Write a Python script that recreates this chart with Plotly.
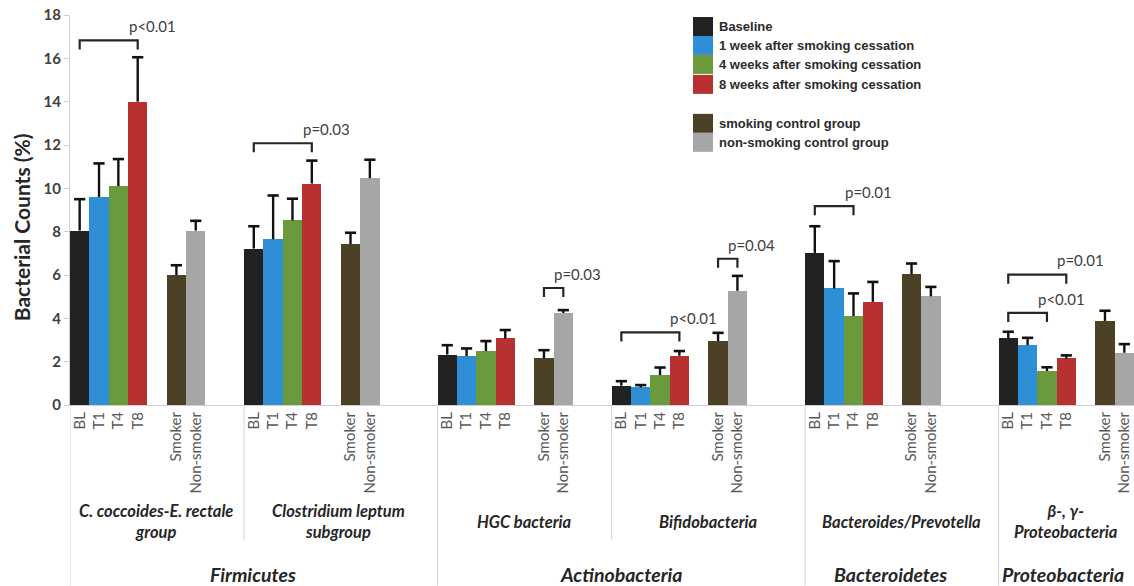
import plotly.graph_objects as go

# --- data -------------------------------------------------------------
subgroups = ["C. coccoides-E. rectale<br>group", "Clostridium leptum<br>subgroup",
             "HGC bacteria", "Bifidobacteria", "Bacteroides/Prevotella",
             "β-, γ-<br>Proteobacteria"]
phyla = ["Firmicutes", "Actinobacteria", "Bacteroidetes", "Proteobacteria"]

series_names = ["Baseline", "1 week after smoking cessation",
                "4 weeks after smoking cessation", "8 weeks after smoking cessation",
                "smoking control group", "non-smoking control group"]
tick_labels = ["BL", "T1", "T4", "T8", "Smoker", "Non-smoker"]

# mean bacterial counts (%) per subgroup, one list per series
baseline   = [8.05, 7.22, 2.33, 0.89, 7.02, 3.07]
week1      = [9.60, 7.65, 2.26, 0.81, 5.38, 2.76]
week4      = [10.10, 8.52, 2.49, 1.38, 4.10, 1.57]
week8      = [14.00, 10.22, 3.07, 2.27, 4.76, 2.15]
smokers    = [6.00, 7.42, 2.15, 2.95, 6.04, 3.88]
nonsmokers = [8.05, 10.47, 4.25, 5.27, 5.02, 2.41]

# upper error (SE) per subgroup
err_baseline   = [1.45, 1.03, 0.43, 0.21, 1.23, 0.31]
err_week1      = [1.55, 2.02, 0.35, 0.11, 1.26, 0.34]
err_week4      = [1.25, 1.00, 0.46, 0.35, 1.05, 0.17]
err_week8      = [2.05, 1.06, 0.39, 0.22, 0.92, 0.14]
err_smokers    = [0.45, 0.53, 0.38, 0.38, 0.49, 0.47]
err_nonsmokers = [0.45, 0.85, 0.13, 0.69, 0.43, 0.40]

# significance brackets: (subgroup index, first bar, last bar, y of bar, text)
brackets = [
    (0, 0, 3, 16.83, "p<0.01"),
    (1, 0, 3, 12.08, "p=0.03"),
    (2, 4, 5, 5.40, "p=0.03"),
    (3, 0, 3, 3.35, "p<0.01"),
    (3, 4, 5, 6.75, "p=0.04"),
    (4, 0, 2, 9.18, "p=0.01"),
    (5, 0, 3, 6.02, "p=0.01"),
    (5, 0, 2, 4.25, "p<0.01"),
]

# --- layout constants -------------------------------------------------
colors = ["#222222", "#2f8fd6", "#6a9a3b", "#b83131", "#4c4126", "#a6a6a6"]
group_start = [0, 9, 19, 28, 38, 48]       # first slot of each subgroup
bar_offset = [0, 1, 2, 3, 5, 6]            # slot of each series inside a subgroup
subgroup_center_px = [156, 338, 524, 708, 901, 1066]
phylum_center_px = [253, 621, 890, 1063]
LEFT, RIGHT, TOP, BASE, H = 70, 1134, 14.5, 405, 586
PW, PH = RIGHT - LEFT, BASE - TOP

values = [baseline, week1, week4, week8, smokers, nonsmokers]
errors = [err_baseline, err_week1, err_week4, err_week8, err_smokers, err_nonsmokers]

fig = go.Figure()
for s in range(6):
    xs = [g + bar_offset[s] for g in group_start]
    fig.add_trace(go.Bar(
        x=xs, y=values[s], width=1.0, name=series_names[s],
        marker=dict(color=colors[s], line=dict(width=0)),
        showlegend=False,
    ))

# upper-only error bars: stem from the bar top plus a cap
for s in range(6):
    xs = [g + bar_offset[s] for g in group_start]
    lx, ly = [], []
    tops = []
    for x, v, e in zip(xs, values[s], errors[s]):
        lx += [x, x, None]
        ly += [v, v + e, None]
        tops.append(v + e)
    fig.add_trace(go.Scatter(x=lx, y=ly, mode="lines", hoverinfo="skip",
                             line=dict(color="#111111", width=2.4), showlegend=False))
    fig.add_trace(go.Scatter(x=xs, y=tops, mode="markers", hoverinfo="skip",
                             marker=dict(symbol="line-ew", size=8,
                                         line=dict(color="#111111", width=2.6)),
                             showlegend=False))

tickvals, ticktext = [], []
for g in group_start:
    for s in range(6):
        tickvals.append(g + bar_offset[s])
        ticktext.append(tick_labels[s])


def px_x(px):
    return (px - LEFT) / PW


def px_y(py):
    return (BASE - py) / PH


shapes = []
annotations = []

# category separator lines below the axis
for xb, full in [(-0.5, True), (8.5, False), (18.5, True), (27.5, False),
                 (37.5, True), (47.5, True)]:
    shapes.append(dict(type="line", xref="x", yref="paper", x0=xb, x1=xb,
                       y0=0, y1=px_y(H if full else 540),
                       line=dict(color="#d4d4d4", width=1)))

# significance brackets
for gi, a, b, yb, txt in brackets:
    x0 = group_start[gi] + bar_offset[a]
    x1 = group_start[gi] + bar_offset[b]
    leg = 0.42
    shapes.append(dict(type="path", xref="x", yref="y",
                       path=f"M {x0},{yb - leg} L {x0},{yb} L {x1},{yb} L {x1},{yb - leg}",
                       line=dict(color="#262626", width=2.2)))
    annotations.append(dict(x=x1 + 0.75, y=yb + 0.15, xref="x", yref="y", text=txt,
                            showarrow=False, xanchor="center", yanchor="bottom",
                            font=dict(family="Lato", size=15, color="#404040")))

# subgroup and phylum labels
for name, cx in zip(subgroups, subgroup_center_px):
    annotations.append(dict(x=px_x(cx), y=px_y(522), xref="paper", yref="paper",
                            text=f"<b><i>{name}</i></b>", showarrow=False,
                            xanchor="center", yanchor="middle",
                            font=dict(family="Lato", size=16.5, color="#262626")))
for name, cx in zip(phyla, phylum_center_px):
    annotations.append(dict(x=px_x(cx), y=px_y(575), xref="paper", yref="paper",
                            text=f"<b><i>{name}</i></b>", showarrow=False,
                            xanchor="center", yanchor="middle",
                            font=dict(family="Lato", size=19.5, color="#262626")))

# y-axis title
annotations.append(dict(x=px_x(21), y=px_y(227), xref="paper", yref="paper",
                        text="<b>Bacterial Counts (%)</b>", textangle=-90,
                        showarrow=False, xanchor="center", yanchor="middle",
                        font=dict(family="Lato", size=21, color="#262626")))

# legend drawn as swatches and labels
legend_rows = [26, 45, 64, 84, 123, 142]
for s, yc in enumerate(legend_rows):
    shapes.append(dict(type="rect", xref="paper", yref="paper",
                       x0=px_x(693), x1=px_x(713), y0=px_y(yc + 9.5), y1=px_y(yc - 9.5),
                       fillcolor=colors[s], line=dict(width=0)))
    annotations.append(dict(x=px_x(717), y=px_y(yc), xref="paper", yref="paper",
                            text=f"<b>{series_names[s]}</b>", showarrow=False,
                            xanchor="left", yanchor="middle",
                            font=dict(family="Liberation Sans", size=13, color="#2b2b2b")))

fig.update_layout(
    width=1134, height=586,
    margin=dict(l=LEFT, r=0, t=TOP, b=H - BASE, pad=0),
    paper_bgcolor="white", plot_bgcolor="white",
    barmode="overlay", bargap=0,
    shapes=shapes, annotations=annotations,
    xaxis=dict(range=[-0.5, 54.5], tickmode="array", tickvals=tickvals, ticktext=ticktext,
               tickangle=-90, ticks="", showgrid=False, zeroline=False,
               showline=True, linecolor="#d0d0d0", linewidth=1,
               tickfont=dict(family="Lato", size=15, color="#595959")),
    yaxis=dict(range=[0, 18], tickvals=list(range(0, 19, 2)),
               ticktext=[f"<b>{v}</b>" for v in range(0, 19, 2)],
               showgrid=False, zeroline=False, showline=True, linecolor="#d0d0d0",
               linewidth=1, ticks="outside", ticklen=5, tickcolor="#d0d0d0",
               tickfont=dict(family="Lato", size=15, color="#404040")),
)

fig.write_html("out.html")
